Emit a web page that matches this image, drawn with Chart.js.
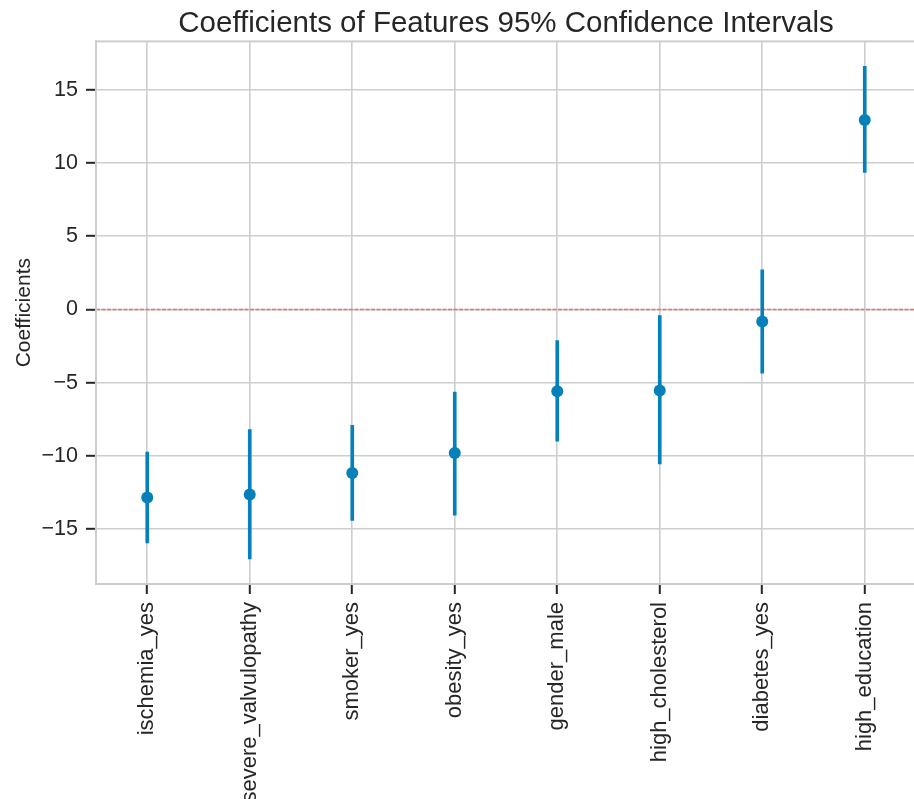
<!DOCTYPE html>
<html>
<head>
<meta charset="utf-8">
<script src="https://cdn.jsdelivr.net/npm/chart.js@4/dist/chart.umd.min.js"></script>
<style>
  html, body { margin: 0; padding: 0; background: #ffffff; overflow: hidden; }
  #wrap { width: 914px; height: 799px; overflow: hidden; position: relative; }
  canvas { display: block; }
</style>
</head>
<body>
<div id="wrap"><canvas id="chart" width="922" height="799"></canvas></div>
<script>
// Regression features, point estimates and 95% confidence bounds
const features = ['ischemia_yes', 'severe_valvulopathy', 'smoker_yes', 'obesity_yes',
                  'gender_male', 'high_cholesterol', 'diabetes_yes', 'high_education'];
const coefs   = [-12.84, -12.63, -11.16, -9.80, -5.58, -5.53, -0.82, 12.93];
const lowerCI = [-15.93, -17.02, -14.40, -14.04, -8.99, -10.55, -4.36, 9.35];
const upperCI = [-9.73, -8.21, -7.92, -5.65, -2.13, -0.43, 2.70, 16.59];
const yTicks  = [-15, -10, -5, 0, 5, 10, 15];

const BLUE = '#0580bb';
const INK = '#262626';
const GRID = '#cdcdcd';
const FONT = "'Liberation Sans', Arial, sans-serif";

// intervals as floating bars [low, high]
const intervals = lowerCI.map((lo, i) => [lo, upperCI[i]]);

// frame around the plotting area and the dashed zero reference line
const framePlugin = {
  id: 'frame',
  beforeDatasetsDraw(chart) {
    const { ctx, chartArea: a, scales } = chart;
    const y0 = scales.y.getPixelForValue(0);
    ctx.save();
    ctx.strokeStyle = '#ef6a6a';
    ctx.lineWidth = 1.5;
    ctx.setLineDash([4, 1.5]);
    ctx.beginPath();
    ctx.moveTo(a.left, y0);
    ctx.lineTo(a.right, y0);
    ctx.stroke();
    ctx.restore();
  },
  afterDraw(chart) {
    const { ctx, chartArea: a } = chart;
    ctx.save();
    ctx.strokeStyle = GRID;
    ctx.lineWidth = 2;
    ctx.strokeRect(a.left, a.top, a.right - a.left, a.bottom - a.top);
    ctx.restore();
  }
};

new Chart(document.getElementById('chart'), {
  type: 'bar',
  data: {
    labels: features,
    datasets: [
      {
        type: 'line',
        data: coefs,
        showLine: false,
        pointRadius: 6,
        pointHoverRadius: 6,
        pointBackgroundColor: BLUE,
        pointBorderWidth: 0,
        order: 0
      },
      {
        type: 'bar',
        data: intervals,
        backgroundColor: BLUE,
        borderWidth: 0,
        barThickness: 3,
        order: 1
      }
    ]
  },
  options: {
    responsive: false,
    animation: false,
    devicePixelRatio: 1,
    layout: { padding: { left: 0, right: 4, top: 0, bottom: 0 } },
    plugins: {
      legend: { display: false },
      tooltip: { enabled: false },
      title: {
        display: true,
        fullSize: false,
        text: 'Coefficients of Features 95% Confidence Intervals',
        color: INK,
        font: { family: FONT, size: 29.5, weight: 'normal' },
        padding: { top: 6, bottom: 0 }
      }
    },
    scales: {
      x: {
        offset: true,
        grid: {
          offset: false,
          color: GRID,
          lineWidth: 1.6,
          tickColor: INK,
          tickWidth: 2,
          tickLength: 10
        },
        border: { display: true, color: GRID, width: 2 },
        ticks: {
          color: INK,
          font: { family: FONT, size: 22 },
          minRotation: 90,
          maxRotation: 90,
          padding: 8,
          autoSkip: false
        },
        afterFit(scale) { scale.height = 215; }
      },
      y: {
        min: -18.74,
        max: 18.29,
        afterBuildTicks(scale) { scale.ticks = yTicks.map(v => ({ value: v })); },
        grid: {
          color: GRID,
          lineWidth: 1.6,
          tickColor: INK,
          tickWidth: 2,
          tickLength: 10
        },
        border: { display: true, color: GRID, width: 2 },
        ticks: {
          color: INK,
          font: { family: FONT, size: 21.5 },
          padding: 8,
          callback: v => (v < 0 ? '\u2212' + Math.abs(v) : String(v))
        },
        title: {
          display: true,
          text: 'Coefficients',
          color: INK,
          font: { family: FONT, size: 21 },
          padding: { top: 12, bottom: 0 }
        },
        afterFit(scale) { scale.width = 96; }
      }
    }
  },
  plugins: [framePlugin]
});
</script>
</body>
</html>
